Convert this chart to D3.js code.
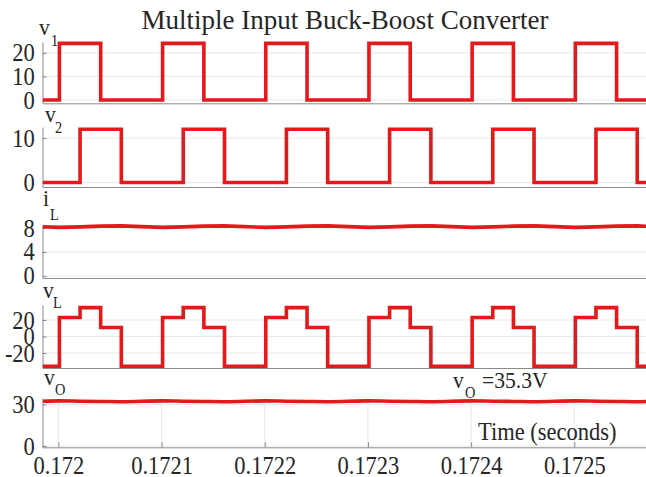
<!DOCTYPE html>
<html>
<head>
<meta charset="utf-8">
<script src="https://cdn.jsdelivr.net/npm/d3@7"></script>
<style>
  body { margin: 0; background: #fff; }
  svg { display: block; }
  svg text { font-family: "Liberation Serif", "Times New Roman", serif; }
</style>
</head>
<body>
<svg id="chart" width="646" height="477"></svg>
<script>
// time axis
const timeDomain = [0.1719846, 0.1725695]
const timeTicks = [0.172, 0.1721, 0.1722, 0.1723, 0.1724, 0.1725]
const timeTickLabels = ['0.172', '0.1721', '0.1722', '0.1723', '0.1724', '0.1725']

// switching instants (s): v1 on, v2 on, v1 off, v2 off in each period
const switchTimes = [0.171985,
  0.172001, 0.172021, 0.172041, 0.172061,
  0.172101, 0.172121, 0.172141, 0.172161,
  0.172201, 0.172221, 0.172241, 0.172261,
  0.172301, 0.172321, 0.172341, 0.172361,
  0.172401, 0.172421, 0.172441, 0.172461,
  0.172501, 0.172521, 0.172541, 0.172561,
  0.17257]

const v1Values = [0, 24, 24, 0, 0, 24, 24, 0, 0, 24, 24, 0, 0, 24, 24, 0, 0, 24, 24, 0, 0, 24, 24, 0, 0, 0]
const v2Values = [0, 0, 12, 12, 0, 0, 12, 12, 0, 0, 12, 12, 0, 0, 12, 12, 0, 0, 12, 12, 0, 0, 12, 12, 0, 0]
const vLValues = [-36, 23, 35, 11, -36, 23, 35, 11, -36, 23, 35, 11, -36, 23, 35, 11, -36, 23, 35, 11, -36, 23, 35, 11, -36, -36]
const iLValues = [8.2, 8.10, 8.18, 8.31, 8.35, 8.10, 8.18, 8.31, 8.35, 8.10, 8.18, 8.31, 8.35,
  8.10, 8.18, 8.31, 8.35, 8.10, 8.18, 8.31, 8.35, 8.10, 8.18, 8.31, 8.35, 8.29]
const vOValues = [32.4, 32.6, 32.4, 32.2, 32.0, 32.6, 32.4, 32.2, 32.0, 32.6, 32.4, 32.2, 32.0,
  32.6, 32.4, 32.2, 32.0, 32.6, 32.4, 32.2, 32.0, 32.6, 32.4, 32.2, 32.0, 32.2]

const v1Ticks = [0, 10, 20]
const v2Ticks = [0, 10]
const iLTicks = [0, 4, 8]
const vLTicks = [-20, 0, 20]
const vOTicks = [0, 30]

const titleText = 'Multiple Input Buck-Boost Converter'
const noteText = '=35.3V'

const serif = '"Liberation Serif", "Times New Roman", serif'
const red = '#e3191c'
const axisGray = '#8a8a8a'
const gridGray = '#e8e8e8'
const textColor = '#262626'
const squeeze = 'scale(0.9,1)'

const svg = d3.select('#chart')
const x = d3.scaleLinear().domain(timeDomain).range([42.5, 646])

const panels = [
  {vals: v1Values, curve: d3.curveStepAfter, ticks: v1Ticks, domain: [-1.4, 24.6], top: 42, bottom: 103.3,
    sym: 'v', sub: '1', lx: 39, ly: 35, sx: 51, sy: 46},
  {vals: v2Values, curve: d3.curveStepAfter, ticks: v2Ticks, domain: [-1, 12.5], top: 127, bottom: 187,
    sym: 'v', sub: '2', lx: 45, ly: 122, sx: 55, sy: 133},
  {vals: iLValues, curve: d3.curveLinear, ticks: iLTicks, domain: [-0.35, 8.5], top: 225, bottom: 278,
    sym: 'i', sub: 'L', lx: 43, ly: 206, sx: 50, sy: 220},
  {vals: vLValues, curve: d3.curveStepAfter, ticks: vLTicks, domain: [-38.2, 38.2], top: 305, bottom: 368,
    sym: 'v', sub: 'L', lx: 43, ly: 298, sx: 53, sy: 308},
  {vals: vOValues, curve: d3.curveMonotoneX, ticks: vOTicks, domain: [-0.94, 34.7], top: 398, bottom: 447.3,
    sym: 'v', sub: 'O', lx: 44, ly: 385, sx: 55, sy: 395}
]

function styleAxis(ax) {
  ax.attr('font-family', serif).attr('font-size', 25)
  ax.select('.domain').attr('stroke', axisGray)
  ax.selectAll('.tick line').attr('stroke', axisGray)
  ax.selectAll('.tick text').attr('fill', textColor)
    .attr('font-family', serif).attr('font-size', 25)
    .attr('transform', squeeze)
}

panels.forEach((p, i) => {
  const y = d3.scaleLinear().domain(p.domain).range([p.bottom, p.top])
  const g = svg.append('g')

  // horizontal grid
  g.selectAll('.hgrid').data(p.ticks).enter().append('line')
    .attr('x1', x.range()[0]).attr('x2', x.range()[1])
    .attr('y1', d => y(d)).attr('y2', d => y(d))
    .attr('stroke', gridGray).attr('stroke-width', 1)

  const last = i === panels.length - 1
  if (last) {
    g.selectAll('.vgrid').data(timeTicks).enter().append('line')
      .attr('x1', d => x(d)).attr('x2', d => x(d))
      .attr('y1', p.top).attr('y2', p.bottom)
      .attr('stroke', gridGray).attr('stroke-width', 1)
  }

  // left axis
  const yAxis = g.append('g').attr('transform', `translate(${x.range()[0]},0)`)
    .call(d3.axisLeft(y).tickValues(p.ticks).tickFormat(d => String(d))
      .tickSizeInner(-4).tickSizeOuter(0).tickPadding(8.5))
  styleAxis(yAxis)

  // bottom axis
  const xAxis = g.append('g').attr('transform', `translate(0,${p.bottom})`)
    .call(d3.axisBottom(x).tickValues(last ? timeTicks : [])
      .tickFormat((d, k) => timeTickLabels[k])
      .tickSizeInner(-5).tickSizeOuter(0).tickPadding(9))
  styleAxis(xAxis)

  // trace
  const line = d3.line().x((d, k) => x(switchTimes[k])).y(d => y(d)).curve(p.curve)
  g.append('path').datum(p.vals)
    .attr('d', line)
    .attr('fill', 'none')
    .attr('stroke', red)
    .attr('stroke-width', 3.6)
    .attr('stroke-linejoin', 'miter')

  // panel label
  g.append('text').attr('transform', `translate(${p.lx},${p.ly}) ${squeeze}`)
    .attr('font-size', 24).attr('fill', textColor).text(p.sym)
  g.append('text').attr('transform', `translate(${p.sx},${p.sy}) ${squeeze}`)
    .attr('font-size', 16).attr('fill', textColor).text(p.sub)
})

// title
svg.append('text')
  .attr('x', 345).attr('y', 29)
  .attr('text-anchor', 'middle')
  .attr('font-size', 27)
  .attr('fill', textColor)
  .text(titleText)

// vO annotation
svg.append('text').attr('transform', `translate(453,388) ${squeeze}`)
  .attr('font-size', 24).attr('fill', textColor).text('v')
svg.append('text').attr('transform', `translate(465,398) ${squeeze}`)
  .attr('font-size', 16).attr('fill', textColor).text('O')
svg.append('text').attr('transform', `translate(482,388) ${squeeze}`)
  .attr('font-size', 24).attr('fill', textColor).text(noteText)

// x label
svg.append('text').attr('transform', `translate(478,440) ${squeeze}`)
  .attr('font-size', 25).attr('fill', textColor).text('Time (seconds)')
</script>
</body>
</html>
